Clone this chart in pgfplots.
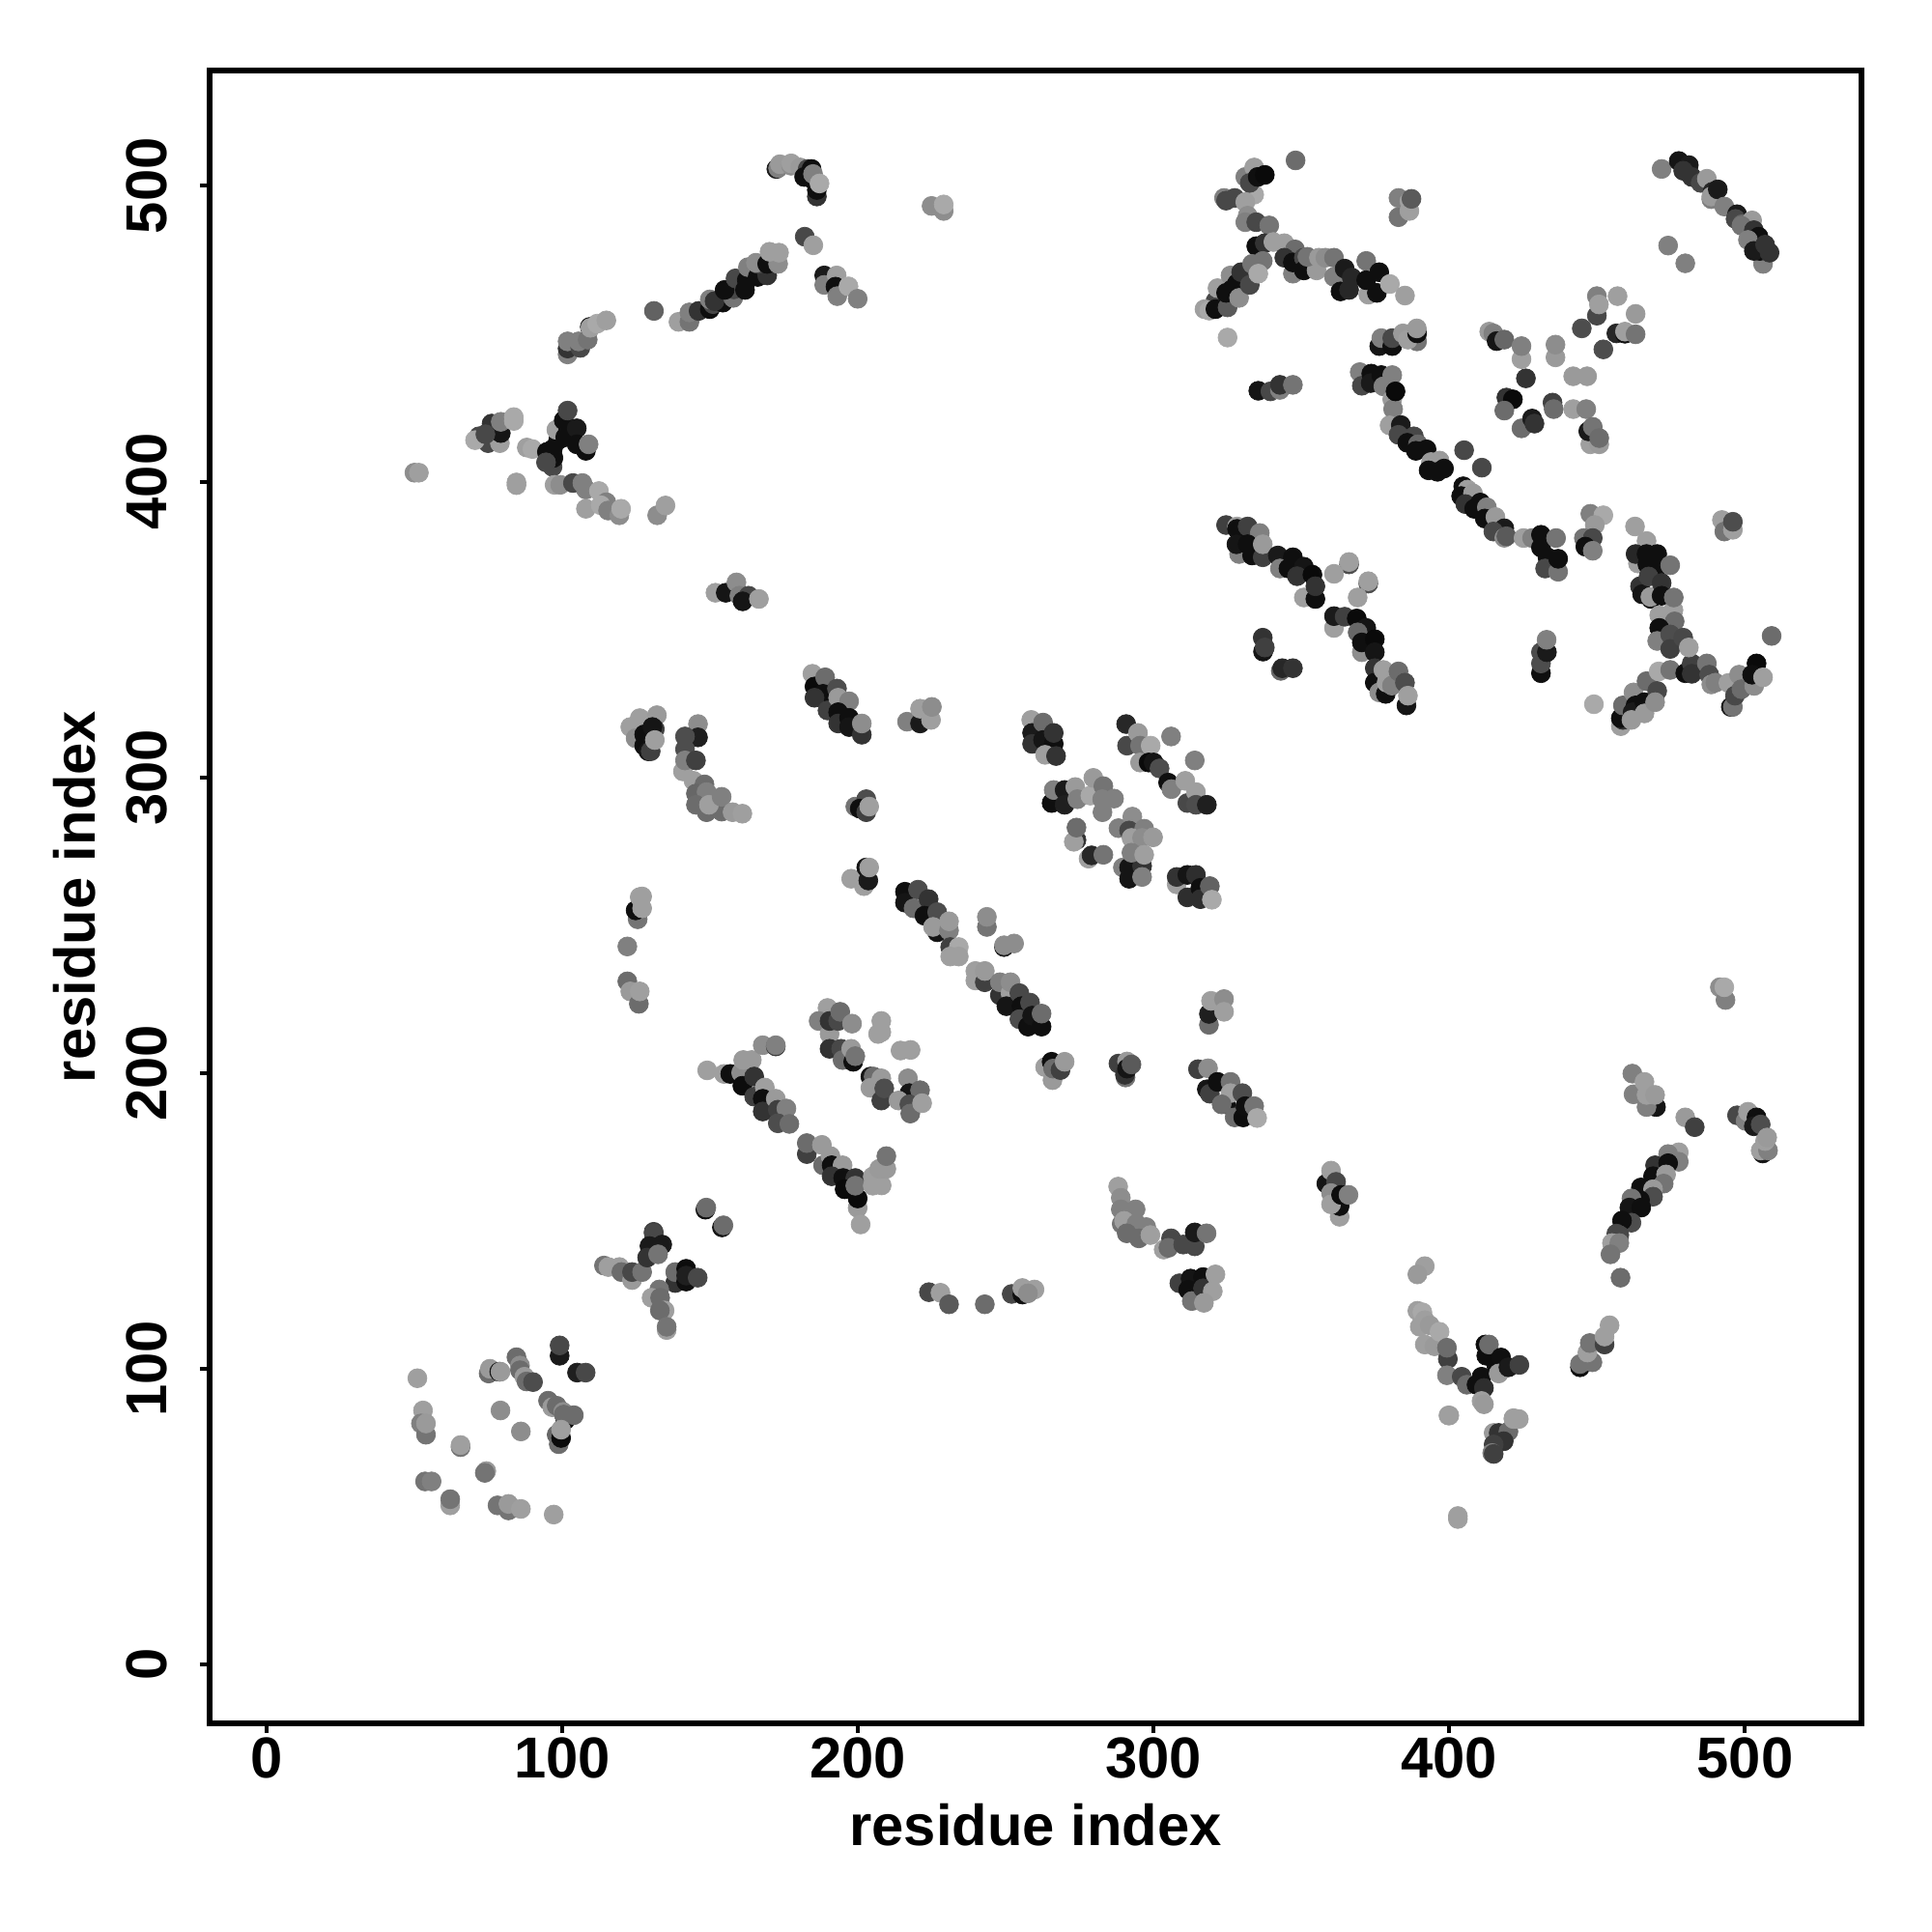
\documentclass[border=0pt]{standalone}
\usepackage{pgfplots}
\pgfplotsset{compat=1.18}
\usepackage{fontspec}
\setmainfont{Liberation Sans}
\begin{document}
\begin{tikzpicture}[x=1cm,y=1cm]
\path[use as bounding box] (0,0) rectangle (20,20);
\begin{axis}[
  at={(2.17cm,2.16cm)},anchor=south west,
  scale only axis,width=17.1cm,height=17.11cm,
  xmin=-19.27,xmax=539.4,ymin=-19.9,ymax=539,
  axis line style={line width=0.06cm},
  xtick pos=lower,ytick pos=left,tick align=outside,
  major tick length=0.1cm,
  tick style={line width=0.04cm,black},
  xtick={0,100,200,300,400,500},ytick={0,100,200,300,400,500},
  xticklabels={0,100,200,300,400,500},yticklabels={0,100,200,300,400,500},
  xticklabel style={font=\bfseries\fontsize{17}{20}\selectfont,anchor=base,yshift=-0.46cm},
  yticklabel style={font=\bfseries\fontsize{17}{20}\selectfont,rotate=90,anchor=base,yshift=0.35cm},
  xlabel={residue index},ylabel={residue index},
  xlabel style={font=\bfseries\fontsize{17}{20}\selectfont,at={(axis description cs:0.5,0)},anchor=base,yshift=-1.26cm},
  ylabel style={font=\bfseries\fontsize{17}{20}\selectfont,at={(axis description cs:0,0.5)},anchor=base,yshift=1.19cm},
  colormap={bw}{gray(0cm)=(0);gray(1cm)=(1)},
  point meta min=0,point meta max=1,
]
\addplot[scatter,only marks,mark=*,mark size=2.8pt,line width=0.2pt,point meta=explicit,
  scatter/use mapped color={draw=mapped color,fill=mapped color}]
  table[x index=0,y index=1,meta index=2,row sep=\\,header=false]{
50 403 .55\\51.5 403 .62\\
71.8 415.3 .28\\74.9 413 .28\\70.5 414 .66\\78.9 413 .62\\76.1 419.6 .2\\79.2 416.4 .08\\74 416 .28\\79.2 420.2 .5\\83.6 421.8 .66\\83.6 420.5 .66\\
88 411.5 .62\\89.9 411 .66\\84.5 399.7 .62\\84.5 398.8 .62\\
96.7 405 .28\\95.5 408.2 .06\\94.8 410 .06\\96.8 411 .06\\97 408 .06\\98.6 414 .06\\99.9 416.4 .06\\98 417.5 .62\\101 415 .06\\100.5 420.7 .06\\102 418 .06\\101.8 424 .28\\104.9 418 .1\\104.9 412.6 .06\\108 410.4 .06\\108.9 412.6 .5\\94.5 406.5 .28\\
97.4 398.9 .62\\99.3 398.9 .55\\103.6 399.5 .28\\106.8 399.5 .5\\108 397.3 .5\\112.4 396.8 .66\\108 390.8 .62\\114.9 393 .5\\113 392 .66\\115.5 390.2 .5\\119.3 388.6 .55\\119.9 390.8 .66\\
132.1 388.6 .55\\134.9 391.9 .62\\
151.8 362.4 .62\\155.3 362.4 .08\\158.9 365.9 .55\\159.9 361.4 .5\\163 361.4 .28\\161 359.5 .08\\166.5 360.3 .62\\
101.8 443 .5\\101.8 445 .2\\101.8 447.4 .5\\106.1 445.2 .28\\105.5 447.4 .5\\108.6 448 .45\\109.3 452.3 .1\\109.5 452 .62\\111.8 453.4 .66\\114.9 454.5 .62\\
131 457.7 .38\\
139.3 454 .62\\143 454 .45\\143 457.2 .5\\146.1 457.7 .2\\149.9 458.3 .06\\151 460 .28\\149.9 461.6 .5\\154.3 460.5 .06\\151.5 461 .2\\157.8 462.1 .45\\158 465 .28\\154.9 464.8 .06\\158.6 468.7 .28\\161.8 464.8 .06\\162.4 468.1 .06\\162.8 472.5 .5\\166.1 469.2 .06\\169.3 469.7 .2\\166.1 473.6 .28\\165.5 474 .55\\169.3 473.6 .06\\173 473.6 .55\\170.1 477.7 .62\\173.3 477.4 .62\\
172.4 505.7 .1\\173 506 .5\\173.6 507.3 .6\\177.4 506.8 .55\\177.4 507.6 .62\\180.5 506.2 .6\\183 505.7 .28\\184.3 505.7 .06\\181.8 503 .06\\184.3 502.4 .06\\186.1 496.4 .2\\186.1 498.6 .06\\184.8 504 .5\\187 500.8 .66\\
182 482.8 .28\\184.9 479.9 .62\\
188.6 469.7 .1\\188.6 466.5 .5\\192.8 469.7 .62\\192.4 465.9 .06\\193 462.7 .5\\196.8 466 .66\\199.9 461.8 .5\\
224.9 493.2 .55\\229 491.5 .55\\229 493.7 .66\\
348 508.6 .42\\
323.8 495.9 .5\\324.5 495 .28\\327.4 495.9 .28\\334 497 .66\\331 494.5 .62\\331 503 .5\\334 506.2 .62\\332.5 501 .28\\335.2 503 .06\\337.6 503.7 .04\\
331.8 489.9 .55\\331 487.7 .5\\334.7 487.7 .28\\339.1 486.6 .45\\
334.7 479.6 .06\\337.6 480.6 .2\\340.5 481 .62\\344.2 480.6 .62\\347.8 478.5 .42\\344.2 475.7 .2\\347.1 470.3 .5\\347.1 474.1 .06\\350.8 475.7 .28\\350.8 471.4 .06\\355.1 471.4 .6\\352 476 .45\\355.9 475.7 .6\\358.1 475.7 .55\\361 475.7 .45\\
361 469.2 .5\\363.2 464.3 .06\\366.1 464.8 .15\\364.6 472 .1\\367 469 .15\\371.9 474.6 .45\\372.6 463.2 .62\\371.9 468.1 .06\\376.3 470.8 .06\\375.5 463.8 .06\\379.9 466.8 .66\\385 462.9 .62\\
320.9 461 .28\\317.2 458.3 .62\\318.8 457.8 .66\\321.6 465.4 .62\\320.9 458.3 .06\\326 469.7 .55\\325 458.9 .35\\324.5 463.8 .06\\326.5 465 .06\\328.2 467 .06\\329.6 470.8 .2\\328.9 462.1 .55\\332.5 466.5 .28\\336.9 474.6 .45\\333.3 473.6 .45\\335.4 470.3 .66\\
325 448.7 .66\\
382.8 489.4 .45\\382.8 495.9 .5\\386.5 491.5 .62\\386.5 494.8 .62\\387.2 495.6 .35\\
376.3 445.8 .08\\377 448.5 .5\\380.7 445.8 .06\\380.7 448.5 .28\\384.3 450.1 .6\\389.1 447.4 .45\\386 448 .62\\389.1 450.1 .06\\389 451.8 .6\\
335.4 430.7 .08\\339.5 430.5 .28\\342.7 431 .5\\342.7 432.7 .2\\347.1 432.7 .45\\
369.7 437 .5\\370.4 432.4 .28\\373.6 436.5 .06\\373.4 433.3 .1\\377 436 .06\\377.7 432.2 .5\\380.7 436 .5\\380.7 427.8 .6\\381 424.5 .5\\381.8 430.5 .04\\
380.7 419.6 .5\\379.8 419 .62\\383.6 419.1 .1\\382.8 415.8 .28\\388 415.3 .28\\385.8 413.1 .06\\389.4 412.6 .4\\392.3 410.9 .06\\388.7 410.4 .06\\393.8 406.6 .6\\396.7 407.1 .6\\393 403.8 .06\\396 403.3 .06\\398.2 404.4 .06\\
405 410.6 .28\\411 404.7 .28\\
404.7 398.4 .06\\406.2 397.3 .62\\404 395.1 .06\\408 396 .6\\405.4 392.4 .2\\410.5 392.9 .06\\408.4 390.8 .06\\412.7 391.3 .5\\412 387.5 .06\\415.6 388 .6\\418.6 384.2 .1\\414.9 383.1 .28\\418.6 381 .55\\419.3 381.5 .35\\
425.1 380.9 .62\\428 380.9 .5\\431 382 .06\\431 377.7 .06\\433.2 374.4 .06\\432.4 370.6 .28\\436.8 369.5 .45\\436.1 380.9 .45\\436.8 373.9 .06\\
447.7 389.1 .5\\452.1 388.6 .66\\449.2 385.3 .6\\445.5 380.9 .45\\448.5 380.9 .28\\446 378 .06\\448.5 376.6 .5\\
462.8 384.8 .62\\466.7 379.9 .62\\463.8 372.3 .62\\463 375.5 .15\\466.7 375.5 .06\\470.3 375.5 .06\\467 372 .06\\471 371.7 .06\\474.7 371.7 .45\\
492.2 387 .62\\493 383.1 .45\\495.9 383.7 .62\\495.9 386.4 .3\\
471.8 505.7 .5\\477.6 508.4 .08\\481 507 .1\\479.1 505.1 .2\\482 503 .2\\485 501 .28\\487.1 502.4 .6\\489 498 .15\\488.6 495.5 .5\\488.6 496.4 .6\\490.8 498.8 .1\\493 493 .5\\
497.3 490.4 .1\\496.8 488.8 .28\\499 487 .4\\502.4 488.3 .6\\498.8 486.5 .45\\503 485 .2\\504.6 482.8 .06\\501 481.7 .5\\506.1 473.6 .5\\505 478 .06\\503 478 .1\\506.8 480.1 .2\\508.3 477.4 .2\\
474 479.8 .5\\479.8 473.8 .5\\
449.9 462.7 .5\\449.9 456.1 .28\\450.6 459.9 .62\\456.9 462.7 .62\\463 456.7 .6\\444.8 451.8 .3\\456.5 450.1 .15\\459.4 450 .06\\459.4 450.7 .62\\463 449.8 .45\\452.1 444.7 .3\\
413.5 450.7 .6\\414.9 450.1 .5\\416 447.5 .08\\418.6 448 .4\\424.4 441.4 .62\\424.4 445.8 .5\\425.9 434.9 .2\\435.9 442 .6\\435.9 446.3 .55\\441.9 435.6 .6\\446.6 435.6 .6\\
419.3 428.4 .2\\421.5 427.8 .04\\418.6 424 .42\\424.4 418 .42\\428 421.3 .1\\428.8 419.6 .2\\
434.9 426.7 .25\\435.3 424.5 .42\\441.9 424.5 .62\\446.3 424.5 .5\\447.7 412.6 .62\\450.7 412.6 .6\\447 417 .1\\448.5 418.5 .45\\450.7 414.7 .42\\
324.5 385.3 .25\\328.2 384.8 .62\\328.2 384 .06\\331.8 384.8 .25\\335.9 382.6 .5\\328.9 375.5 .5\\328 378.8 .08\\331.8 378.8 .06\\333.3 375 .06\\336.9 374.4 .25\\336.9 378.8 .6\\
342 375 .1\\342.7 370.6 .5\\347.1 374.4 .06\\345.6 370.6 .06\\350.8 371.2 .08\\348.5 368 .2\\353.7 368.5 .04\\350.8 360.8 .62\\354.7 360.3 .06\\354.7 364.6 .2\\
366.1 372 .3\\366.1 372.8 .62\\361 368.8 .62\\372.6 365.5 .3\\372.6 366.3 .62\\369 360.8 .62\\
361 350.5 .62\\361 354.5 .1\\364.6 354.3 .25\\368.7 353.7 .04\\371.9 350.5 .08\\369 349 .4\\370.4 342.3 .55\\370.4 345.6 .06\\374.8 346.7 .04\\374.8 342.3 .08\\
374.8 336.9 .2\\374.8 332 .06\\376.3 328.7 .55\\378.5 328.2 .06\\377.7 336.3 .62\\378.8 332 .62\\380.6 331 .5\\382.8 335.8 .42\\385 332 .3\\385.5 324.3 .08\\386 327.6 .62\\
337.2 343 .5\\336.9 347.2 .2\\337 342.5 .08\\337.6 343.9 .25\\343 336 .4\\343.5 336.9 .15\\347.1 336.9 .2\\
431 335.2 .06\\431 338.5 .3\\431 342.3 .3\\433 342.3 .1\\432.9 346.5 .5\\
448.9 324.7 .66\\
458 317.3 .62\\458.7 319.4 .2\\458 320 .06\\458.7 324.3 .42\\462.3 328.7 .55\\463 324.3 .06\\462 322 .1\\461.6 319.4 .6\\466 325.4 .06\\466 321.6 .6\\466.7 332.5 .42\\470.3 329.2 .28\\469.6 325.4 .55\\470.8 335.8 .66\\474.7 336.3 .45\\
479.8 335.2 .06\\482 338.5 .25\\482 335 .2\\487.1 338.5 .45\\487.9 334.7 .3\\488.6 331.4 .55\\490 332 .5\\
464.5 364.6 .2\\465.2 361.9 .08\\468.2 360.3 .06\\467.4 367.9 .25\\468 361 .6\\471.8 365.7 .2\\471.8 361.4 .06\\
475.8 356.5 .62\\475.9 360.8 .45\\471 354.8 .62\\476.2 352.7 .42\\471 350.5 .06\\470.3 346.1 .5\\474.7 348.3 .3\\474.7 343.4 .25\\479.1 347.2 .28\\481 343.9 .62\\
509 347.8 .42\\
494.4 331.9 .62\\495.2 323.8 .1\\495.9 323.8 .45\\496.6 327.6 .28\\498 334.7 .55\\498.8 329.8 .42\\503.1 330.9 .55\\503.9 338.5 .04\\502.4 334.7 .06\\506.1 333.8 .62\\
123 317 .62\\126.2 320 .62\\132 321 .6\\124.8 313.2 .55\\127.7 314.5 .06\\131.3 316.3 .25\\130.5 317 .08\\127.7 310.7 .06\\129.1 308.8 .08\\129.9 308.8 .25\\131.3 312.6 .62\\
145.9 318 .55\\145.9 313.5 .12\\141.5 313.8 .3\\141.5 309.5 .3\\140.8 302 .62\\141.5 305.7 .5\\145.2 305.7 .25\\144.4 298.8 .62\\148.1 297.6 .42\\145.2 294.5 .4\\148.8 295 .5\\145.2 290.7 .42\\148.8 288.2 .42\\153.9 288.4 .42\\149.6 290.7 .62\\153.9 293.4 .5\\157.6 288.2 .6\\160.9 287.7 .62\\
184.6 335 .62\\185.3 330.7 .04\\188.9 333.8 .42\\188.2 328.2 .06\\185.3 326.9 .2\\192.9 330 .3\\189.7 322.6 .25\\193.3 326.9 .6\\197 325.7 .5\\193.3 322 .06\\193.3 318.2 .2\\197 320.1 .06\\197 317 .08\\201.3 314.4 .2\\201.3 318.2 .55\\
216.6 318.8 .5\\221 318.2 .1\\221 323.2 .62\\224.7 319.4 .62\\225 323.8 .55\\
199.1 290.1 .45\\202.8 292.6 .3\\200.6 289.4 .06\\202.8 288.2 .25\\203.8 290.1 .62\\
197.7 265.7 .62\\202 263.2 .62\\202.8 269.5 .08\\203.5 265.1 .1\\203.8 269.5 .62\\
215.9 261.3 .06\\215.9 257.6 .08\\220.3 262 .3\\218.8 255.7 .42\\223.9 258.8 .2\\222.5 253.2 .06\\226.8 254.4 .3\\226.8 247.6 .08\\225.4 249.4 .6\\230.8 248.2 .5\\230.8 251.3 .6\\
231.2 242.6 .25\\234.1 242.6 .66\\231.2 239.4 .62\\234.1 239.4 .62\\
243.6 249.4 .45\\243.6 252.8 .55\\249.4 242.6 .1\\249.4 243.2 .55\\252.8 243.8 .55\\
239.7 234.5 .62\\239.7 231.3 .62\\242.9 230.7 .25\\242.9 234.5 .6\\248 226.3 .2\\248 230.7 .5\\251.6 227 .62\\251.6 230.7 .55\\250.2 222.6 .08\\254.6 227 .28\\255.3 222.6 .06\\254.6 218.2 .3\\258.2 223.8 .28\\257.5 215.7 .06\\258.9 219.4 .08\\262.1 215.7 .06\\262.1 220.1 .42\\
318.7 216.3 .42\\318.7 220 .12\\319.4 224.4 .62\\323.8 225 .55\\323.8 220.7 .62\\
122 242.8 .5\\122 231 .42\\123 227.6 .6\\125.9 223.4 .42\\126.2 227.6 .62\\
125.5 252 .45\\124.8 255 .06\\127 255.7 .62\\126.2 259.5 .62\\127 259.7 .62\\
258.6 319.4 .62\\258.9 315 .1\\262.6 318.5 .42\\258.9 311.3 .2\\262.6 312.6 .08\\266.2 311.3 .06\\266.2 315 .2\\263.3 307.6 .62\\267 307.2 .2\\
290.7 318 .15\\291 310.7 .28\\294.7 315 .6\\295.4 310.7 .45\\299 310.7 .66\\305.9 313.8 .5\\313.9 305.7 .5\\295.4 305 .6\\298.3 305 .04\\300 305 .08\\302 303 .3\\
304.9 298.2 .06\\306 296 .5\\310.7 298.8 .62\\311.4 291.3 .28\\314.3 295 .62\\314.3 290.7 .3\\318 290.7 .12\\
265.5 291.3 .06\\266.2 295.7 .5\\269.9 295.7 .1\\269.9 290.7 .12\\273.5 296.7 .6\\274.2 292.6 .5\\278.6 293.8 .66\\279.6 299.8 .6\\283 297 .45\\282.6 292.6 .5\\286.6 292.8 .5\\282.7 288.2 .5\\
273.9 278.8 .2\\273 278.2 .62\\273.9 283 .42\\278 272.5 .62\\279 273.6 .15\\283 273.8 .45\\
288.1 282.8 .5\\292.8 286.7 .55\\291.7 282 .28\\296.8 282.6 .5\\292.5 279.5 .62\\296.1 279.5 .55\\299.8 279.7 .6\\
289.6 269.5 .5\\291.7 265.7 .08\\291.7 269.5 .08\\296.1 270 .2\\296.1 266.3 .5\\292.5 274.5 .5\\296.8 273.8 .62\\
307.8 263.8 .62\\307.8 266.3 .2\\311.4 267 .08\\314.3 267 .18\\311.4 259.4 .18\\315.8 262.6 .06\\315.8 258.8 .18\\319 263.2 .38\\319.7 258.6 .66\\
149 200.9 .62\\154.7 199.7 .62\\156.8 199.7 .06\\160.5 200.1 .55\\161.2 204.4 .6\\164.1 204.4 .6\\160.9 195.7 .05\\164.9 198.8 .2\\164.9 192 .25\\168.5 195.1 .62\\167.8 191.3 .06\\167.8 187 .2\\172.2 191.3 .6\\167.8 209.4 .55\\172.2 209 .2\\172.2 209.4 .5\\172.9 187.6 .25\\175.8 188 .5\\172.9 183 .3\\176.8 182.8 .42\\
182.7 172.6 .25\\182.7 176.3 .42\\187.8 175.7 .6\\188.2 168.8 .42\\190.7 171.9 .6\\191.1 168.8 .06\\194.8 168.8 .6\\191.1 165.1 .2\\195 164.5 .06\\199.1 164.5 .2\\195.5 160.7 .04\\199.9 154.4 .6\\199.9 157.6 .04\\199.1 161.9 .45\\205 161.9 .62\\205 165 .62\\208 162 .62\\207.2 167.6 .6\\209.6 167.6 .6\\209.6 171.9 .45\\200.9 148.8 .62\\
148.4 153.8 .06\\148.7 154.5 .42\\154 147.8 .08\\154.5 148.5 .42\\
130.9 146.3 .25\\
189.7 222 .62\\186.7 217.6 .5\\190.4 213.2 .6\\190.4 217.6 .2\\193.3 217.6 .28\\194 220.7 .42\\198 216.7 .55\\207.9 217.6 .62\\207.9 213.8 .62\\206.8 213.2 .62\\
214.4 207.6 .62\\217.8 207.8 .62\\
190.4 208.2 .2\\194.3 208.2 .28\\194.8 204.4 .42\\198.4 203.8 .06\\197.7 208.2 .6\\199.1 205.7 .45\\
204.2 198.8 .08\\205.3 198.8 .42\\204.2 195 .6\\207.9 198.2 .6\\207.9 190.7 .25\\208.9 194.8 .3\\
216.9 198.2 .55\\217.4 193.2 .08\\221 194.2 .42\\213.7 190.7 .6\\217.4 189.4 .3\\217.7 186.3 .42\\221.7 189.8 .62\\
263.3 202 .62\\265.8 197.6 .6\\265.5 203.8 .06\\266 201.5 .42\\268.5 201 .25\\269.9 203.8 .6\\
288.1 203.2 .25\\290.5 198.5 .45\\290.3 199.4 .2\\291 203.9 .6\\291 201.5 .08\\292.5 202.9 .35\\
315 201.3 .25\\318.4 201.6 .55\\318 194.5 .08\\319 193 .25\\321.6 197 .06\\326 197 .45\\324.5 189.4 .06\\326 193.2 .62\\323 189.4 .42\\330 193.2 .3\\327.4 185 .42\\330.3 185 .05\\331 188.8 .06\\334 188.8 .45\\335 184.8 .66\\
491.5 229 .55\\493.4 224.7 .5\\493 229 .66\\
461.9 199.8 .5\\462.3 192.8 .5\\466 197 .62\\469.9 188.5 .08\\466.7 188.5 .5\\466.7 192.6 .62\\469.6 192.6 .6\\
479.8 185 .6\\483 181.7 .25\\
497.3 185.7 .28\\500.2 183.8 .5\\501 186.9 .62\\503.9 185 .06\\503 182 .1\\505.3 182.6 .3\\506 172.8 .08\\505.3 173.8 .62\\507.8 173.8 .5\\506.8 177 .62\\507.5 178.2 .6\\
477.6 173.2 .62\\474 172.6 .5\\477.6 170 .5\\469.6 168.8 .2\\474 169.5 .06\\468.9 165.1 .06\\473.3 165.7 .6\\472.5 162.6 .45\\464.8 161.3 .06\\468.9 160.7 .6\\468.9 158.2 .3\\464.5 157 .06\\461.6 157.6 .45\\460.9 154.5 .08\\464.9 154.5 .06\\458.7 149.4 .25\\461.6 149.4 .3\\458.4 150.1 .06\\456.5 145.7 .28\\457.5 145.2 .28\\
455 142.5 .62\\457.5 142.5 .5\\454.5 138.7 .45\\457.9 130.8 .42\\
288 161.6 .62\\288.9 157.8 .55\\288.9 153.9 .5\\293.9 153.9 .5\\289.2 149 .45\\290 150 .62\\294.2 149 .5\\297.5 147.9 .5\\290.9 145.8 .42\\295 144.1 .42\\298.9 145.2 .62\\303.4 140.3 .62\\305.9 144.1 .28\\305 140.9 .42\\310 142 .28\\313.9 141.4 .28\\313.9 146.1 .1\\317.9 145.8 .45\\
308.7 128.9 .25\\312.5 130.5 .08\\311.7 126.7 .06\\312.9 122.9 .45\\316.7 131 .06\\316.7 127.2 .2\\320.9 131.9 .62\\320 126.2 .62\\317 122.3 .6\\
362.9 151.4 .62\\362.9 155 .06\\358.4 162.6 .08\\360 167 .62\\361.7 163.2 .28\\360 159.4 .55\\360 155.6 .62\\363.4 158.8 .05\\365.9 158.8 .5\\
391.7 134.7 .62\\389.2 131.9 .6\\
389.2 119.6 .62\\390.9 119.1 .66\\391.7 116.4 .62\\390 114.2 .62\\393.4 114.7 .6\\391.7 108.2 .62\\395 107.6 .6\\396.7 112.5 .66\\399.5 103.3 .25\\399.2 107.1 .42\\399.2 97.8 .5\\
404.2 97.3 .28\\405.9 94.6 .42\\409.2 94.6 .06\\410.9 97.3 .06\\411.7 93.5 .18\\412.2 108.2 .05\\412.5 104.4 .05\\413.4 108.2 .42\\415.9 101.1 .05\\417.5 103.8 .06\\416.7 98.4 .6\\420 100.5 .1\\423.7 101.3 .25\\
400 84.2 .62\\399.7 84.2 .62\\410.9 89.1 .62\\411.7 88 .6\\
415 78.3 .6\\416.7 78.3 .2\\420 78.8 .42\\421.7 83 .62\\421.7 83.3 .62\\423.5 83 .62\\418.4 75.5 .2\\415 74.4 .25\\414.5 71.5 .5\\415 71.2 .25\\
402.9 50.2 .62\\402.9 49.2 .62\\
444.2 100.5 .06\\444.2 101.6 .45\\448.4 102.2 .45\\446.7 105.5 .62\\447.5 108.7 .45\\452.5 108.2 .25\\452.5 110.9 .62\\454.2 114.7 .62\\
51 96.8 .62\\52.9 85.9 .62\\52.2 81.5 .5\\53.9 77.7 .45\\53.9 81.5 .6\\65.6 73.5 .45\\65.6 74.2 .62\\79.1 85.9 .55\\86 78.8 .55\\74.3 65.4 .6\\73.8 64.8 .45\\53.6 61.9 .45\\55.8 61.9 .5\\62.1 53.8 .62\\62.1 55.9 .45\\78.1 53.8 .45\\81.8 52.1 .45\\81.8 54.3 .6\\86 52.6 .62\\97.1 50.7 .62\\
75.1 98.4 .42\\75.5 100 .6\\78.7 99 .06\\79.1 99 .6\\84.5 103.9 .42\\85.7 101.1 .55\\85.7 99.5 .42\\87.2 97.3 .6\\87.9 95.7 .42\\90.1 95.5 .3\\
95.2 89.2 .42\\96.6 87 .6\\98.1 87.5 .42\\100.3 85.4 .55\\101 82.6 .06\\100.5 84.5 .42\\103.9 84.3 .42\\
98.1 77.7 .4\\98.8 74.5 .42\\99.6 76.6 .04\\99.6 79.4 .62\\
99.1 104.4 .1\\99.1 107.9 .28\\105 98.7 .12\\107.9 98.7 .28\\
114.1 134.9 .45\\115.6 134.4 .62\\119.3 134.4 .62\\120 132.7 .42\\123.6 130 .6\\123.6 132.7 .28\\127 132.7 .45\\
130.9 145.8 .28\\129.5 141.5 .1\\133.8 142 .1\\128.7 137.6 .2\\132.4 138.7 .45\\
138.2 129 .2\\138.2 132.7 .42\\141.9 129.5 .06\\141.9 133.8 .05\\141.9 131.5 .12\\145.8 130.8 .28\\
132.8 126.8 .45\\130.2 124 .62\\133.1 124 .42\\134.6 119.7 .62\\133 119.7 .42\\135.3 113.1 .62\\135.3 114.2 .45\\
224 125.9 .28\\227.9 125.7 .62\\230.8 121.8 .35\\242.9 121.8 .42\\252 125.3 .28\\255.6 125.1 .06\\255.6 127.3 .62\\259.7 126.8 .62\\257.5 125.5 .55\\
};
\end{axis}
\end{tikzpicture}
\end{document}
